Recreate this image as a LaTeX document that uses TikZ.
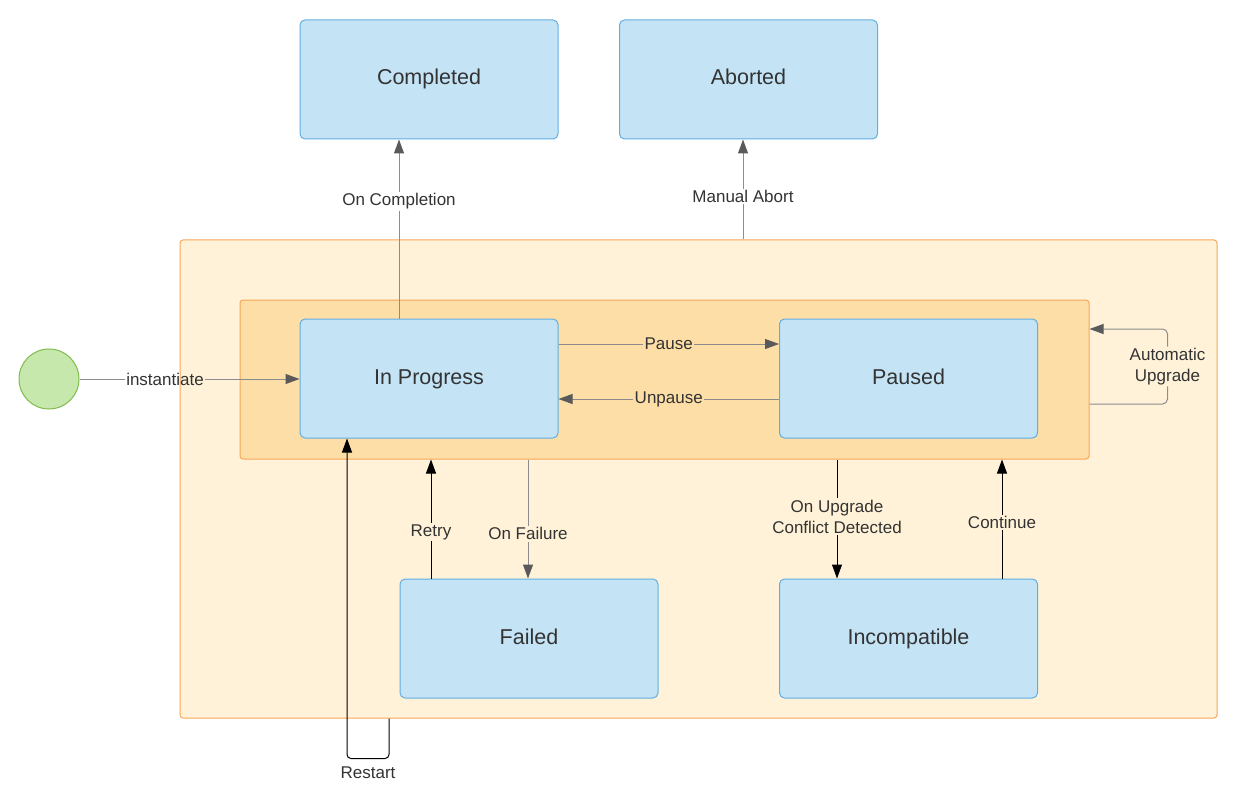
\documentclass[tikz,border=0pt]{standalone}
\usepackage{fontspec}
\setmainfont{Liberation Sans}
\usetikzlibrary{arrows.meta}
\definecolor{boxfill}{RGB}{196,228,246}
\definecolor{boxline}{RGB}{98,174,226}
\definecolor{grpfill}{RGB}{255,242,216}
\definecolor{inrfill}{RGB}{253,222,167}
\definecolor{grpline}{RGB}{248,166,88}
\definecolor{startfill}{RGB}{199,232,172}
\definecolor{startline}{RGB}{126,186,76}
\definecolor{txt}{RGB}{51,51,51}
\begin{document}
\begin{tikzpicture}[x=1pt,y=-1pt,line join=round,
  state/.style={draw=boxline,fill=boxfill,rounded corners=5pt,line width=1pt,
    minimum width=258pt,minimum height=119pt,inner sep=0pt,text=txt,
    text height=15.5pt,text depth=4.5pt,font=\fontsize{21.5}{26}\selectfont},
  group/.style={draw=grpline,rounded corners=3pt,line width=1pt,inner sep=0pt},
  lbl/.style={text=txt,inner sep=1.5pt,align=center,font=\fontsize{17}{21}\selectfont},
  garrow/.style={draw={rgb,255:red,140;green,140;blue,140},line width=1pt,
    -{Triangle[length=14pt,width=10pt,color={rgb,255:red,90;green,90;blue,90}]}},
  barrow/.style={draw=black,line width=1pt,-{Triangle[length=14pt,width=10pt]}}]
\useasboundingbox (0,0) rectangle (1238,791);
% containers
\node[group,fill=grpfill,minimum width=1037pt,minimum height=478pt] (grp) at (698.5,479) {};
\node[group,fill=inrfill,minimum width=849pt,minimum height=159pt] (inr) at (664.5,379.5) {};
% states
\node[state] (done) at (429,79.5) {Completed};
\node[state] (abrt) at (748.5,79.5) {Aborted};
\node[state] (prog) at (429,378.5) {In Progress};
\node[state] (paus) at (908.5,378.5) {Paused};
\node[state] (fail) at (529,638.5) {Failed};
\node[state] (inc) at (908.5,638.5) {Incompatible};
\node[circle,draw=startline,fill=startfill,line width=1pt,minimum size=60pt,inner sep=0pt] (start) at (49,379) {};
% transitions
\node[lbl] (inst) at (165,379) {instantiate};
\draw[garrow,-] (start.east) -- (inst.west);
\draw[garrow] (inst.east) -- (inst -| prog.west);
\draw[garrow] ([xshift=-30pt]prog.north) -- node[lbl,fill=white,pos=0.655]{On Completion} ([xshift=-30pt]done.south);
\coordinate (ab) at ([xshift=-5.5pt]abrt.south);
\draw[garrow] (ab |- grp.north) -- node[lbl,fill=white,pos=0.43]{Manual Abort} (ab);
\draw[garrow] ([yshift=34.5pt]prog.east) -- node[lbl,fill=inrfill]{Pause} ([yshift=34.5pt]paus.west);
\draw[garrow] ([yshift=-20.5pt]paus.west) -- node[lbl,fill=inrfill]{Unpause} ([yshift=-20.5pt]prog.east);
\draw[garrow,rounded corners=5pt] ([yshift=-24.5pt]inr.east) -- ++(78,0) -- node[lbl,fill=grpfill]{Automatic\\Upgrade} ++(0,-75) -- ([yshift=50.5pt]inr.east);
\coordinate (fl) at ([xshift=-1pt]fail.north);
\draw[garrow] (fl |- inr.south) -- node[lbl,fill=grpfill,pos=0.625]{On Failure} (fl);
\coordinate (rt) at ([xshift=-98pt]fail.north);
\draw[barrow] (rt) -- node[lbl,fill=grpfill,pos=0.39]{Retry} (rt |- inr.south);
\coordinate (cf) at ([xshift=-71.5pt]inc.north);
\draw[barrow] (cf |- inr.south) -- node[lbl,fill=grpfill,pos=0.48]{On Upgrade\\Conflict Detected} (cf);
\coordinate (ct) at ([xshift=93.5pt]inc.north);
\draw[barrow] (ct) -- node[lbl,fill=grpfill,pos=0.47]{Continue} (ct |- inr.south);
\coordinate (rs) at ([xshift=-40pt]prog.south);
\draw[barrow,rounded corners=4pt] (rs |- grp.south) -- ++(0,40) -- node[lbl,below=6pt]{Restart} ++(-42,0) -- ([xshift=-82pt]prog.south);
\end{tikzpicture}
\end{document}
